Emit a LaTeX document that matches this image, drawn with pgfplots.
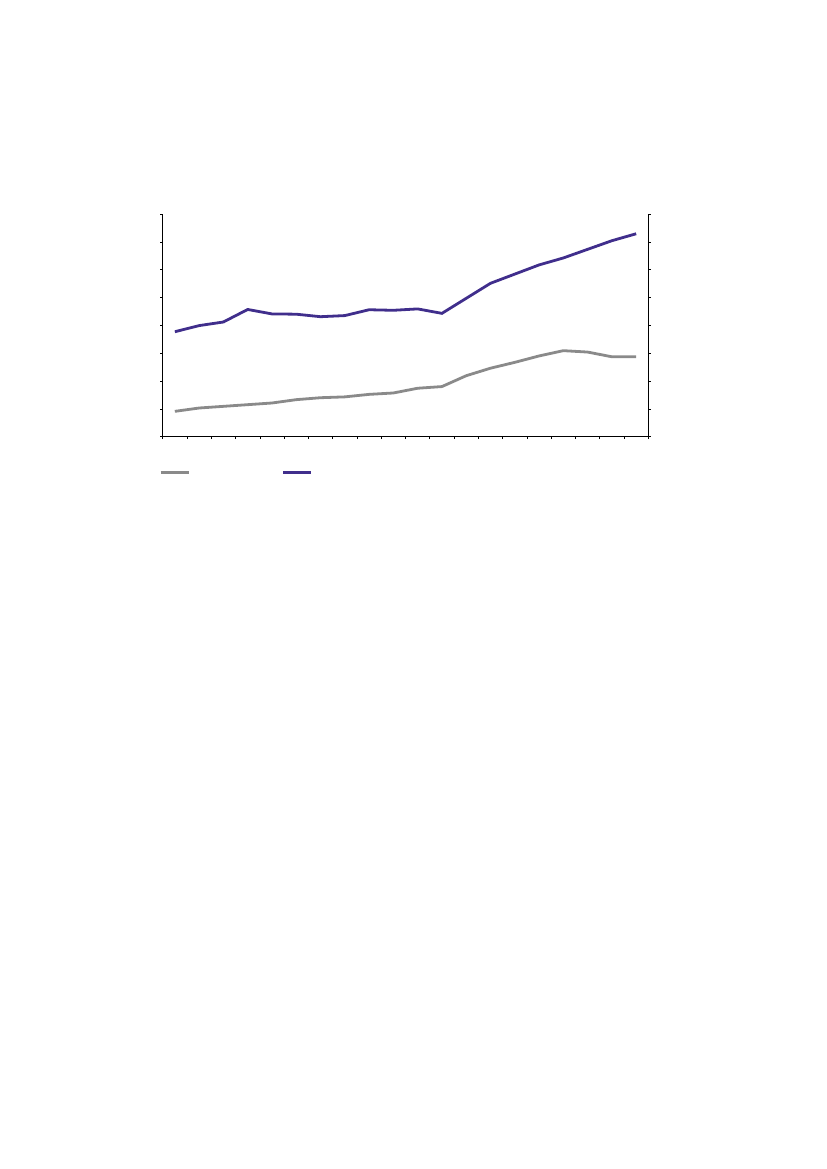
\documentclass[border=0pt]{standalone}
\usepackage{pgfplots}
\pgfplotsset{compat=1.18}
\definecolor{lowgray}{RGB}{138,138,138}
\definecolor{highpurple}{RGB}{64,46,140}
\begin{document}
\begin{tikzpicture}[x=1bp,y=1bp]
  \path[use as bounding box] (0,0) rectangle (827,1169);
  \begin{axis}[
    at={(162.7bp,732.3bp)}, anchor=south west,
    scale only axis,
    width=485.6bp, height=222.7bp,
    xmin=0, xmax=20, ymin=0, ymax=8,
    xtick={0,...,20}, ytick={0,...,8},
    xticklabels={}, yticklabels={},
    axis x line*=bottom, axis y line*=box,
    ytick pos=both,
    tick align=outside,
    major tick length=2.5bp,
    axis line style={line width=0.8bp, black},
    tick style={line width=0.6bp, black},
    legend style={draw=none, fill=none, at={(-3.5bp,-36bp)}, anchor=west,
      legend columns=2, inner sep=0pt, outer sep=0pt,
      /tikz/every even column/.append style={column sep=88bp}},
    legend image code/.code={\draw[#1] (0bp,0bp) -- (28bp,0bp);},
  ]
  \addplot[lowgray, line width=2.8bp] coordinates {
    (0.5,0.91) (1.5,1.03) (2.5,1.09) (3.5,1.15) (4.5,1.21)
    (5.5,1.33) (6.5,1.40) (7.5,1.43) (8.5,1.52) (9.5,1.57)
    (10.5,1.74) (11.5,1.80) (12.5,2.19) (13.5,2.46) (14.5,2.67)
    (15.5,2.90) (16.5,3.09) (17.5,3.04) (18.5,2.87) (19.5,2.87)
  };
  \addlegendentry{}
  \addplot[highpurple, line width=2.8bp] coordinates {
    (0.5,3.77) (1.5,3.99) (2.5,4.12) (3.5,4.57) (4.5,4.41)
    (5.5,4.40) (6.5,4.31) (7.5,4.35) (8.5,4.56) (9.5,4.54)
    (10.5,4.59) (11.5,4.43) (12.5,4.97) (13.5,5.51) (14.5,5.84)
    (15.5,6.17) (16.5,6.42) (17.5,6.73) (18.5,7.04) (19.5,7.29)
  };
  \addlegendentry{}
  \end{axis}
\end{tikzpicture}
\end{document}
